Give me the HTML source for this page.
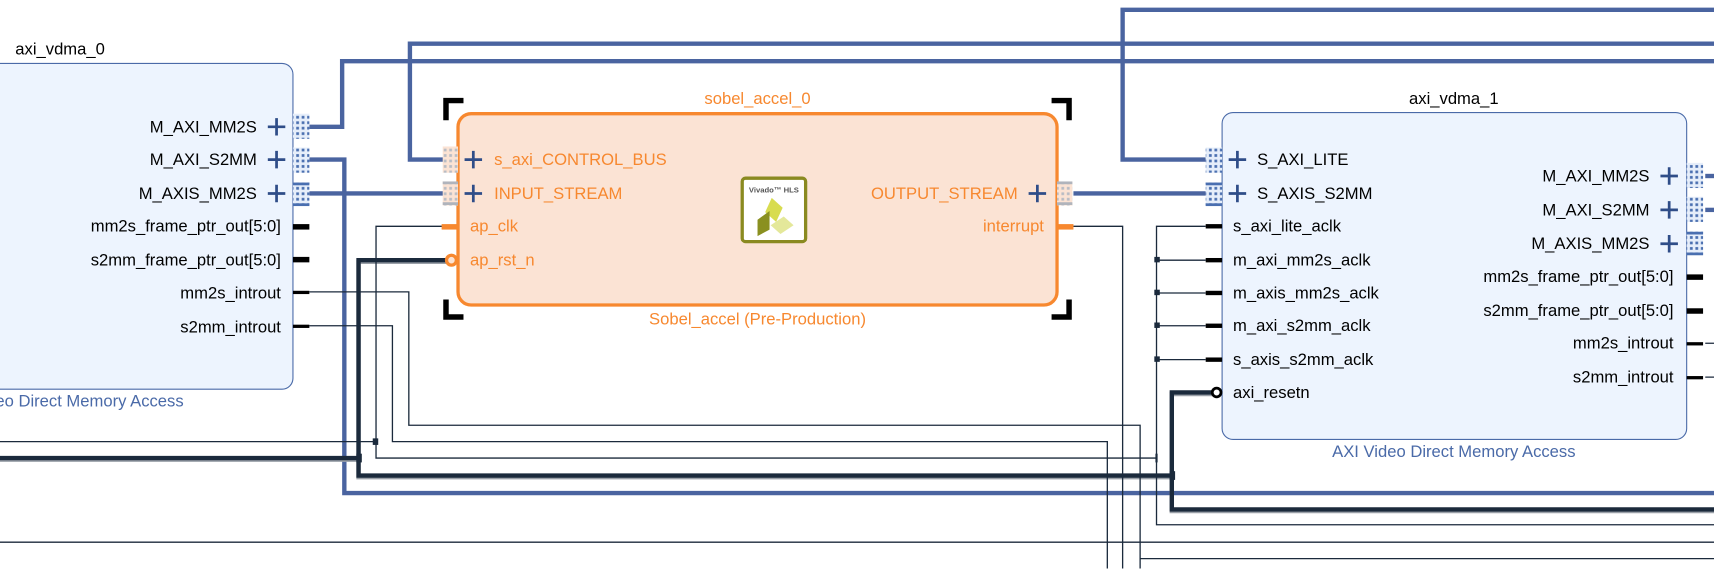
<!DOCTYPE html>
<html><head><meta charset="utf-8"><style>
html,body{margin:0;padding:0;background:#fff;overflow:hidden}
svg{display:block}
text{font-family:"Liberation Sans",sans-serif;font-size:15.2px}
</style></head><body>
<svg width="1714" height="569" viewBox="0 0 1568 520.5" preserveAspectRatio="none" xmlns="http://www.w3.org/2000/svg">
<defs>
<pattern id="dots" width="5" height="5" patternUnits="userSpaceOnUse"><rect width="5" height="5" fill="#e6eefa"/><rect x="1" y="1" width="2.5" height="2.5" fill="#4a6fb0"/></pattern>
<pattern id="dotsO" width="5" height="5" patternUnits="userSpaceOnUse"><rect width="5" height="5" fill="#fbe3d4"/><rect x="1" y="1" width="2.5" height="2.5" fill="#b8bcc4"/></pattern>
</defs>
<rect x="-12" y="58" width="280" height="298" rx="10" fill="#edf4fe" stroke="#4a6aa8" stroke-width="1"/>
<rect x="1118" y="103" width="425" height="299" rx="10" fill="#edf4fe" stroke="#4a6aa8" stroke-width="1"/>
<rect x="419" y="104" width="548" height="175" rx="12" fill="#fbe3d4" stroke="#f7882f" stroke-width="3"/>
<g stroke="#000" stroke-width="5" fill="none">
<path d="M408,110 V92 H424"/><path d="M962,92 H978 V110"/><path d="M408,274 V290 H424"/><path d="M962,290 H978 V274"/>
</g>
<g stroke="#4a64a0" stroke-width="4" fill="none">
<path d="M283,116 H313 V56 H1568"/>
<path d="M283,146 H315 V451 H1568"/>
<path d="M283,177 H406"/>
<path d="M406,146 H375 V40 H1568"/>
<path d="M982,177 H1103"/>
<path d="M1103,146 H1027 V9 H1568"/>
<path d="M1560,161 H1568"/><path d="M1560,192 H1568"/>
</g>
<g stroke="#9aa0a8" stroke-width="4" fill="none" transform="translate(0,1.5)">
<path d="M0,419 H328"/><path d="M412,238 H328 V435 H1072"/><path d="M1110,359 H1072 V466 H1568"/>
</g>
<g stroke="#1b2a3c" stroke-width="4" fill="none">
<path d="M0,419 H328"/><path d="M412,238 H328 V435 H1072"/><path d="M1110,359 H1072 V466 H1568"/>
</g>
<g stroke="#1b2a3c" stroke-width="1.2" fill="none">
<path d="M406,207 H344 V419 H1058"/>
<path d="M0,404 H344"/>
<path d="M283,267 H374 V389 H1043 V520"/>
<path d="M283,298 H359 V404 H1013 V520"/>
<path d="M982,207 H1027 V520"/>
<path d="M1103,207 H1058 V480 H1568"/>
<path d="M1058,238 H1103 M1058,268 H1103 M1058,298 H1103 M1058,329 H1103"/>
<path d="M0,496 H1568"/>
<path d="M1043,511 H1568"/>
<path d="M1560,314 H1568 M1560,345 H1568"/>
</g>
<g fill="#1b2a3c">
<rect x="341" y="401" width="5" height="6"/><rect x="326" y="415" width="5" height="8"/><rect x="1070" y="431" width="5" height="8"/>
<rect x="1056" y="235" width="5" height="5"/><rect x="1056" y="265" width="5" height="5"/><rect x="1056" y="295" width="5" height="5"/><rect x="1056" y="326" width="5" height="5"/>
<rect x="1057" y="415" width="2" height="8"/>
</g>
<rect x="268" y="104" width="15" height="23" fill="url(#dots)"/>
<rect x="268" y="135" width="15" height="23" fill="url(#dots)"/>
<rect x="268" y="167" width="15" height="21" fill="url(#dots)"/>
<rect x="268" y="167" width="15" height="2.5" fill="#4a6fb0"/><rect x="268" y="186" width="15" height="2.5" fill="#4a6fb0"/>
<g fill="#000"><rect x="268" y="205" width="15" height="5"/><rect x="268" y="235" width="15" height="5"/><rect x="268" y="266" width="15" height="3"/><rect x="268" y="297" width="15" height="3"/></g>
<rect x="1543" y="149" width="15" height="23" fill="url(#dots)"/>
<rect x="1543" y="180" width="15" height="23" fill="url(#dots)"/>
<rect x="1543" y="212" width="15" height="21" fill="url(#dots)"/>
<rect x="1543" y="212" width="15" height="2.5" fill="#4a6fb0"/><rect x="1543" y="231" width="15" height="2.5" fill="#4a6fb0"/>
<g fill="#000"><rect x="1543" y="251" width="15" height="5"/><rect x="1543" y="282" width="15" height="5"/><rect x="1543" y="313" width="15" height="3"/><rect x="1543" y="344" width="15" height="3"/></g>
<rect x="1103" y="135" width="15" height="23" fill="url(#dots)"/>
<rect x="1103" y="167" width="15" height="21" fill="url(#dots)"/>
<rect x="1103" y="167" width="15" height="2.5" fill="#4a6fb0"/><rect x="1103" y="186" width="15" height="2.5" fill="#4a6fb0"/>
<g fill="#000"><rect x="1103" y="205" width="15" height="4"/><rect x="1103" y="236" width="15" height="4"/><rect x="1103" y="266" width="15" height="4"/><rect x="1103" y="296" width="15" height="4"/><rect x="1103" y="327" width="15" height="4"/></g>
<circle cx="1113" cy="359" r="4" fill="#fff" stroke="#000" stroke-width="2.5"/>
<rect x="405" y="134" width="14" height="24" fill="url(#dotsO)"/>
<rect x="405" y="166" width="14" height="22" fill="url(#dotsO)"/>
<rect x="405" y="166" width="14" height="2.5" fill="#b0b4bc"/><rect x="405" y="185" width="14" height="2.5" fill="#b0b4bc"/>
<rect x="967" y="166" width="14" height="22" fill="url(#dotsO)"/>
<rect x="967" y="166" width="14" height="2.5" fill="#b0b4bc"/><rect x="967" y="185" width="14" height="2.5" fill="#b0b4bc"/>
<rect x="404" y="205" width="15" height="5" fill="#f7882f"/>
<rect x="967" y="205" width="15" height="5" fill="#f7882f"/>
<circle cx="413" cy="238" r="4.5" fill="#fbe3d4" stroke="#f7882f" stroke-width="3"/>
<g stroke="#2f4d88" stroke-width="2.5">
<path d="M245,116 h16 M253,108 v16"/><path d="M245,146 h16 M253,138 v16"/><path d="M245,177 h16 M253,169 v16"/>
<path d="M425,146 h16 M433,138 v16"/><path d="M425,177 h16 M433,169 v16"/>
<path d="M941,177 h16 M949,169 v16"/>
<path d="M1124,146 h16 M1132,138 v16"/><path d="M1124,177 h16 M1132,169 v16"/>
<path d="M1519,161 h16 M1527,153 v16"/><path d="M1519,192 h16 M1527,184 v16"/><path d="M1519,223 h16 M1527,215 v16"/>
</g>
<rect x="679" y="163" width="58" height="58" rx="3" fill="#fff" stroke="#8a8a20" stroke-width="3"/>
<text x="708" y="176" text-anchor="middle" fill="#555" style="font-size:7px;font-weight:bold">Vivado™ HLS</text>
<polygon points="706,181 716,190 710,203 700,194" fill="#d8dc50"/>
<polygon points="693,201 704,193 704,210 693,216" fill="#8a9020"/>
<polygon points="705,206 717,198 726,206 714,214" fill="#e4e89a"/>
<g fill="#000">
<text x="14" y="50">axi_vdma_0</text>
<text x="235" y="121" text-anchor="end">M_AXI_MM2S</text>
<text x="235" y="151" text-anchor="end">M_AXI_S2MM</text>
<text x="235" y="182" text-anchor="end">M_AXIS_MM2S</text>
<text x="257" y="212" text-anchor="end">mm2s_frame_ptr_out[5:0]</text>
<text x="257" y="243" text-anchor="end">s2mm_frame_ptr_out[5:0]</text>
<text x="257" y="273" text-anchor="end">mm2s_introut</text>
<text x="257" y="304" text-anchor="end">s2mm_introut</text>
<text x="1330" y="95" text-anchor="middle">axi_vdma_1</text>
<text x="1150" y="151">S_AXI_LITE</text>
<text x="1150" y="182">S_AXIS_S2MM</text>
<text x="1128" y="212">s_axi_lite_aclk</text>
<text x="1128" y="243">m_axi_mm2s_aclk</text>
<text x="1128" y="273">m_axis_mm2s_aclk</text>
<text x="1128" y="303">m_axi_s2mm_aclk</text>
<text x="1128" y="334">s_axis_s2mm_aclk</text>
<text x="1128" y="364">axi_resetn</text>
<text x="1509" y="166" text-anchor="end">M_AXI_MM2S</text>
<text x="1509" y="197" text-anchor="end">M_AXI_S2MM</text>
<text x="1509" y="228" text-anchor="end">M_AXIS_MM2S</text>
<text x="1531" y="258" text-anchor="end">mm2s_frame_ptr_out[5:0]</text>
<text x="1531" y="289" text-anchor="end">s2mm_frame_ptr_out[5:0]</text>
<text x="1531" y="319" text-anchor="end">mm2s_introut</text>
<text x="1531" y="350" text-anchor="end">s2mm_introut</text>
</g>
<g fill="#4a6aa8">
<text x="168" y="372" text-anchor="end">AXI Video Direct Memory Access</text>
<text x="1330" y="418" text-anchor="middle">AXI Video Direct Memory Access</text>
</g>
<g fill="#f7882f">
<text x="693" y="95" text-anchor="middle">sobel_accel_0</text>
<text x="693" y="297" text-anchor="middle">Sobel_accel (Pre-Production)</text>
<text x="452" y="151">s_axi_CONTROL_BUS</text>
<text x="452" y="182">INPUT_STREAM</text>
<text x="430" y="212">ap_clk</text>
<text x="430" y="243">ap_rst_n</text>
<text x="931" y="182" text-anchor="end">OUTPUT_STREAM</text>
<text x="955" y="212" text-anchor="end">interrupt</text>
</g>
</svg>
</body></html>
